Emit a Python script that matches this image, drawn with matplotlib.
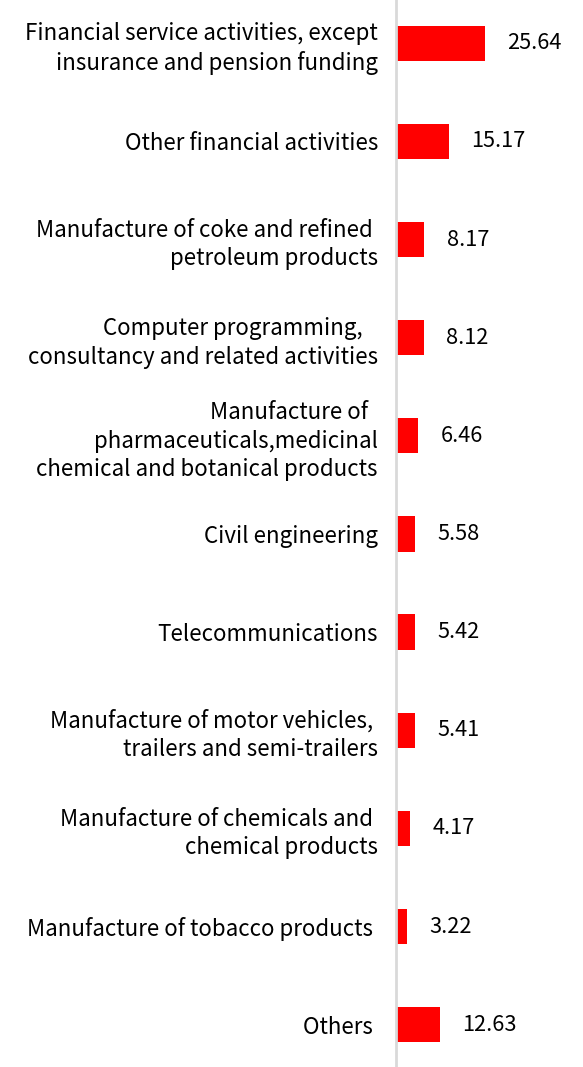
import matplotlib.pyplot as plt

plt.rcParams['font.family'] = ['Noto Sans CJK SC', 'DejaVu Sans']

categories = [
    "Financial service activities, except\ninsurance and pension funding",
    "Other financial activities",
    "Manufacture of coke and refined \npetroleum products",
    "Computer programming,   \nconsultancy and related activities",
    "Manufacture of  \npharmaceuticals,medicinal\nchemical and botanical products",
    "Civil engineering",
    "Telecommunications",
    "Manufacture of motor vehicles, \ntrailers and semi-trailers",
    "Manufacture of chemicals and \nchemical products",
    "Manufacture of tobacco products ",
    "Others ",
]
values = [25.64, 15.17, 8.17, 8.12, 6.46, 5.58, 5.42, 5.41, 4.17, 3.22, 12.63]
value_labels = ["25.64", "15.17", "8.17", "8.12", "6.46", "5.58",
                "5.42", "5.41", "4.17", "3.22", "12.63"]

fig = plt.figure(figsize=(5.83, 10.67), dpi=100)
ax = fig.add_axes([396 / 583, 0, 1 - 396 / 583, 1])

pos = list(range(len(categories)))
bars = ax.barh(pos, values, height=0.36, color='#ff0000')
ax.bar_label(bars, labels=value_labels, padding=16, fontsize=15.7, color='black')

ax.set_xlim(0, 54)
ax.set_ylim(10.43, -0.44)
ax.set_yticks(pos)
ax.set_yticklabels(categories, fontsize=16.1, ha='right', multialignment='right',
                   linespacing=1.3)
ax.tick_params(axis='y', length=0, pad=13)
ax.set_xticks([])

for s in ['top', 'right', 'bottom']:
    ax.spines[s].set_visible(False)
ax.spines['left'].set_color('#d9d9d9')
ax.spines['left'].set_linewidth(2)

fig.savefig('out.png', dpi=100)
